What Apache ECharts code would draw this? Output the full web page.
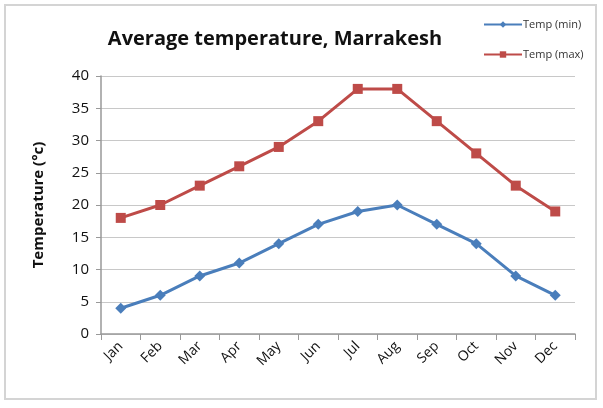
<!DOCTYPE html>
<html>
<head>
<meta charset="utf-8">
<script src="https://cdn.jsdelivr.net/npm/echarts@6/dist/echarts.min.js"></script>
<style>
  html, body { margin: 0; padding: 0; background: #fff; }
  #frame { position: absolute; left: 4px; top: 4px; width: 593px; height: 396px; border: 2px solid #d4d4d4; box-sizing: border-box; }
  #chart { width: 603px; height: 408px; }
</style>
</head>
<body>
<div id="frame"></div>
<div id="chart"></div>
<script>
const months = ['Jan', 'Feb', 'Mar', 'Apr', 'May', 'Jun', 'Jul', 'Aug', 'Sep', 'Oct', 'Nov', 'Dec'];
const tempMin = [4, 6, 9, 11, 14, 17, 19, 20, 17, 14, 9, 6];
const tempMax = [18, 20, 23, 26, 29, 33, 38, 38, 33, 28, 23, 19];

const chart = echarts.init(document.getElementById('chart'));

const option = {
  animation: false,
  title: {
    text: 'Average temperature, Marrakesh',
    left: 270,
    top: 24,
    textAlign: 'center',
    textStyle: { fontFamily: 'Open Sans', fontSize: 20, fontWeight: 'bold', color: '#111' }
  },
  legend: {
    orient: 'vertical',
    left: 478,
    top: 14,
    itemGap: 19,
    itemWidth: 38,
    itemHeight: 8,
    textStyle: { fontFamily: 'Open Sans', fontSize: 11, color: '#333', padding: [0, 0, 0, -4] },
    data: ['Temp (min)', 'Temp (max)']
  },
  grid: { left: 101, right: 28, top: 76, bottom: 74 },
  xAxis: {
    type: 'category',
    data: months,
    boundaryGap: true,
    axisLine: { lineStyle: { color: '#999', width: 1.5 } },
    axisTick: { show: true, length: 6, lineStyle: { color: '#999' } },
    axisLabel: { rotate: 45, fontFamily: 'Open Sans', fontSize: 14, color: '#111', margin: 10 }
  },
  yAxis: {
    type: 'value',
    min: 0,
    max: 40,
    interval: 5,
    name: 'Temperature (°c)',
    nameLocation: 'middle',
    nameGap: 55,
    nameTextStyle: { fontFamily: 'Open Sans', fontSize: 15, fontWeight: 'bold', color: '#111' },
    axisLine: { show: true, lineStyle: { color: '#999', width: 1.5 } },
    axisTick: { show: true, length: 5, lineStyle: { color: '#999' } },
    axisLabel: { fontFamily: 'Open Sans', fontSize: 15, color: '#111', margin: 12 },
    splitLine: { lineStyle: { color: '#c8c8c8', width: 1 } }
  },
  series: [
    {
      name: 'Temp (min)',
      type: 'line',
      data: tempMin,
      symbol: 'diamond',
      symbolSize: 11,
      lineStyle: { color: '#4a7ebb', width: 3 },
      itemStyle: { color: '#4a7ebb' }
    },
    {
      name: 'Temp (max)',
      type: 'line',
      data: tempMax,
      symbol: 'rect',
      symbolSize: 10,
      lineStyle: { color: '#be4b48', width: 3 },
      itemStyle: { color: '#be4b48' }
    }
  ]
};

chart.setOption(option);
</script>
</body>
</html>
